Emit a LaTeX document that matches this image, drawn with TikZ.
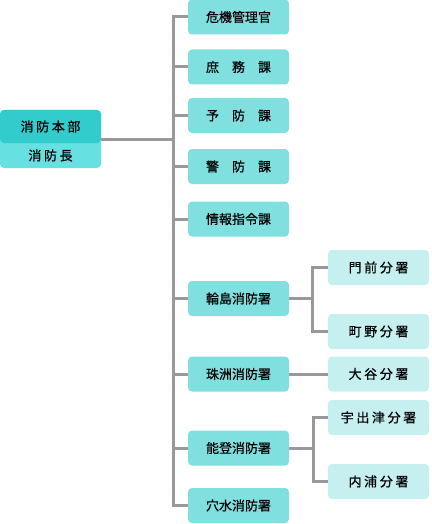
\documentclass[tikz,border=0pt]{standalone}
\usepackage{fontspec}
\setmainfont{Noto Sans CJK JP}[FakeBold=0.6]
\newfontfamily\jpwide{Noto Sans CJK JP}[LetterSpace=20,FakeBold=0.6]
\definecolor{hqdark}{HTML}{33CCCC}
\definecolor{hqlight}{HTML}{66E0E0}
\definecolor{sectteal}{HTML}{80DFDF}
\definecolor{branchpale}{HTML}{C6EFEF}
\definecolor{linegray}{HTML}{999999}
\usetikzlibrary{positioning,backgrounds}

\begin{document}
\begin{tikzpicture}[x=1pt,y=-1pt,
  box/.style={rounded corners=4pt,minimum width=101pt,minimum height=35pt,inner sep=0pt,font=\fontsize{13}{15}\selectfont},
  sect/.style={box,fill=sectteal},
  sub/.style={box,fill=branchpale,font=\fontsize{13}{15}\selectfont\jpwide},
  link/.style={linegray,line width=3pt}]
  \useasboundingbox (0,0) rectangle (431,524);

  % Left: headquarters
  \node[box,fill=hqlight,minimum height=58pt] (hq) at (50.5,139) {};
  \node[box,fill=hqdark,minimum height=33pt,font=\fontsize{13}{15}\selectfont\jpwide] (hqtop) at (50.5,126.5) {消防本部\hspace{-0.2em}};
  \node[font=\fontsize{13}{15}\selectfont\jpwide] (chief) at (50.5,155.5) {消防長\hspace{-0.2em}};

  % Middle: sections and stations
  \node[sect] (risk)    at (238.5,17)    {危機管理官};
  \node[sect] (general) at (238.5,67)    {庶　務　課};
  \node[sect] (prevent) at (238.5,115.5) {予　防　課};
  \node[sect] (guard)   at (238.5,166.5) {警　防　課};
  \node[sect] (command) at (238.5,219)   {情報指令課};
  \node[sect] (wajima)  at (238.5,298.5) {輪島消防署};
  \node[sect] (suzu)    at (238.5,374)   {珠洲消防署};
  \node[sect] (noto)    at (238.5,448)   {能登消防署};
  \node[sect] (anamizu) at (238.5,505.5) {穴水消防署};

  % Right: branch offices
  \node[sub] (monzen)  at (378.5,267.5) {門前分署\hspace{-0.2em}};
  \node[sub] (machino) at (378.5,331.5) {町野分署\hspace{-0.2em}};
  \node[sub] (otani)   at (378.5,374)   {大谷分署\hspace{-0.2em}};
  \node[sub] (ushitsu) at (378.5,417.5) {宇出津分署\hspace{-0.2em}};
  \node[sub] (uchiura) at (378.5,481.5) {内浦分署\hspace{-0.2em}};

  \coordinate (trunkbot) at (173,505.5);
  \coordinate (wjfork) at (312,298.5);
  \coordinate (ntfork) at (313,448);

  \begin{scope}[on background layer]
    \draw[link] (hq.east) -- (hq.east -| trunkbot);
    \draw[link] (risk.west) -| (trunkbot) -- (anamizu.west);
    \foreach \n in {general,prevent,guard,command,wajima,suzu,noto} {
      \draw[link] (\n.west) -- (\n.west -| trunkbot);
    }
    \draw[link] (wajima.east) -- (wjfork);
    \draw[link] (monzen.west) -| (wjfork) |- (machino.west);
    \draw[link] (suzu.east) -- (otani.west);
    \draw[link] (noto.east) -- (ntfork);
    \draw[link] (ushitsu.west) -| (ntfork) |- (uchiura.west);
  \end{scope}
\end{tikzpicture}
\end{document}
